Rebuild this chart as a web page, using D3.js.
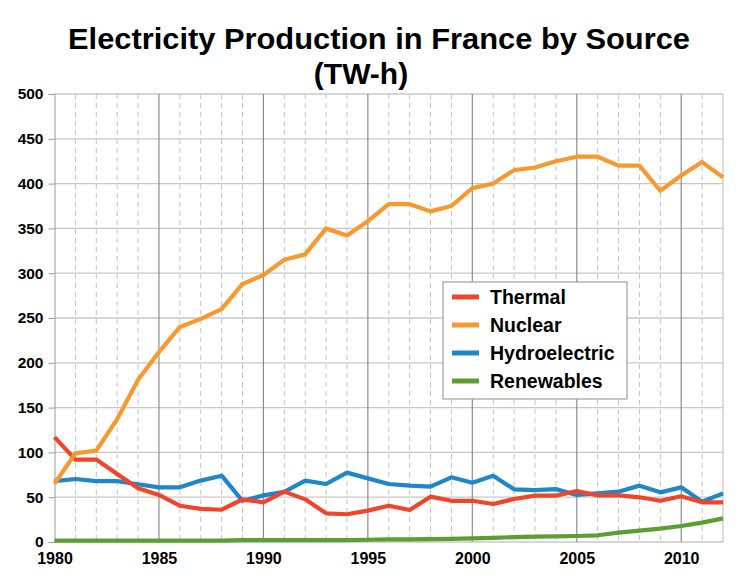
<!DOCTYPE html>
<html><head><meta charset="utf-8">
<script src="https://cdn.jsdelivr.net/npm/d3@7"></script>
<style>body{margin:0;background:#fff;}svg{display:block;font-family:"Liberation Sans",Arial,sans-serif;}</style>
</head><body>
<svg id="c" width="755" height="582"></svg>
<script>
const years = d3.range(1980, 2013);
const thermal = [117,92,92,76,60,52.5,40.5,37,36,47.6,44.3,56.2,47.6,32,31,35,40.5,35.7,50.6,46,46,42.4,48,51.7,51.7,56.9,52,52,49.9,46,51,44.3,44.3];
const nuclear = [65,99,102,137,181,212,240,249,260,288,298,315,321,350,342,358,377,377,369,375,395,400,415,418,425,430,430,420,420,392,409,424,407];
const hydro = [68,70.3,68,68,64.4,61,61,68.5,74,46,52,56,68.5,64.7,77.4,71,64.7,62.9,61.8,72.2,66.2,74,58.8,58,59,52.5,54.3,56.2,62.9,55.4,61,45,54.3];
const renewables = [1.5,1.5,1.5,1.5,1.5,1.5,1.5,1.5,1.5,2,2,2,2,2,2,2.5,3,3,3.3,3.5,4,4.5,5.5,6,6.3,6.7,7.5,10.4,12.6,14.9,17.9,21.6,26.4];
const seriesNames = ["Thermal","Nuclear","Hydroelectric","Renewables"];
const seriesColors = ["#f0452a","#f7992f","#1f86c9","#5c9e31"];
const yTicks = d3.range(0, 501, 50);
const xMajor = [1980,1985,1990,1995,2000,2005,2010];
const title1 = "Electricity Production in France by Source";
const title2 = "(TW-h)";

const svg = d3.select("#c");
const x = d3.scaleLinear().domain([1980,2012]).range([54.5,723]);
const y = d3.scaleLinear().domain([0,500]).range([542,94]);

svg.append("text").attr("x",379).attr("y",48.5).attr("text-anchor","middle")
  .attr("font-size",30).attr("font-weight","bold").attr("textLength",622).attr("lengthAdjust","spacingAndGlyphs").text(title1);
svg.append("text").attr("x",361).attr("y",83.5).attr("text-anchor","middle")
  .attr("font-size",30).attr("font-weight","bold").text(title2);

const g = svg.append("g");
g.selectAll(".hg").data(yTicks).join("line")
  .attr("x1",x(1980)).attr("x2",x(2012)).attr("y1",d=>y(d)).attr("y2",d=>y(d))
  .attr("stroke","#c8c8c8").attr("stroke-width",1.3);
g.selectAll(".vm").data(years.filter(v=>!xMajor.includes(v) && v!==2012)).join("line")
  .attr("x1",d=>x(d)).attr("x2",d=>x(d)).attr("y1",y(500)).attr("y2",y(0))
  .attr("stroke","#c4c4c4").attr("stroke-width",1).attr("stroke-dasharray","5,4");
g.selectAll(".vM").data(xMajor.slice(1)).join("line")
  .attr("x1",d=>x(d)).attr("x2",d=>x(d)).attr("y1",y(500)).attr("y2",y(0))
  .attr("stroke","#8c8c8c").attr("stroke-width",1.2);
g.append("line").attr("x1",x(2012)).attr("x2",x(2012)).attr("y1",y(500)).attr("y2",y(0)).attr("stroke","#c8c8c8").attr("stroke-width",1.3);

const yAxis = d3.axisLeft(y).tickValues(yTicks).tickSize(6).tickPadding(5);
const ya = svg.append("g").attr("transform",`translate(${x(1980)},0)`).call(yAxis);
ya.select(".domain").attr("stroke","#9a9a9a");
ya.selectAll(".tick line").attr("stroke","#9a9a9a");
ya.selectAll("text").attr("font-size",15.5).attr("font-weight","bold").attr("fill","#000").attr("font-family","Liberation Sans, Arial, sans-serif");

const xAxis = d3.axisBottom(x).tickValues(xMajor).tickFormat(d3.format("d")).tickSize(0).tickPadding(11);
const xa = svg.append("g").attr("transform",`translate(0,${y(0)})`).call(xAxis);
xa.select(".domain").remove();
xa.selectAll("text").attr("font-size",16).attr("font-weight","bold").attr("fill","#000").attr("font-family","Liberation Sans, Arial, sans-serif");

const allSeries = [thermal, nuclear, hydro, renewables];
const line = d3.line().x((d,i)=>x(years[i])).y(d=>y(d));
[3,2,0,1].forEach(k=>{
  svg.append("path").datum(allSeries[k]).attr("d",line).attr("fill","none")
    .attr("stroke",seriesColors[k]).attr("stroke-width",4.2).attr("stroke-linejoin","round");
});

const lg = svg.append("g").attr("transform","translate(443,282)");
lg.append("rect").attr("x",0).attr("y",0).attr("width",184).attr("height",117)
  .attr("fill","#fff").attr("stroke","#a0a0a0").attr("stroke-width",1.2);
seriesNames.forEach((n,i)=>{
  const yy = 15 + i*28;
  lg.append("line").attr("x1",9).attr("x2",36).attr("y1",yy).attr("y2",yy)
    .attr("stroke",seriesColors[i]).attr("stroke-width",5);
  lg.append("text").attr("x",47).attr("y",yy+7).attr("font-size",19.5).attr("font-weight","bold").text(n);
});
</script>
</body></html>
